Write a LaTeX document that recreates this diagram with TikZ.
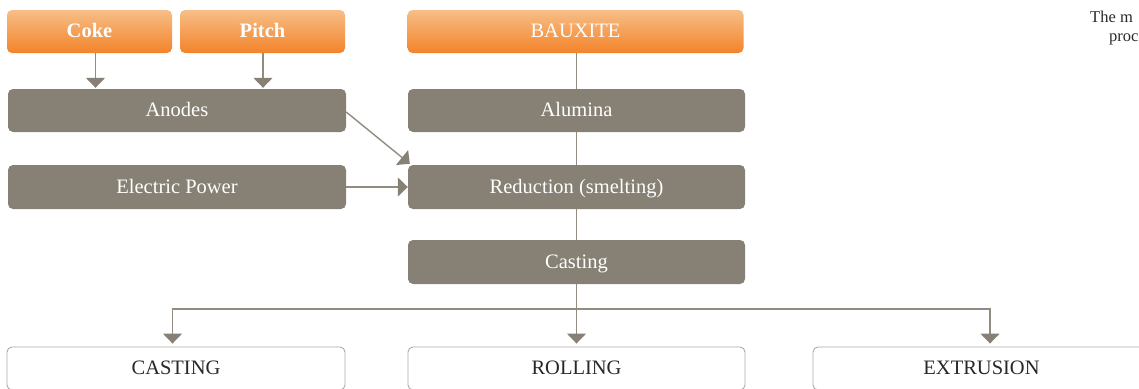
\documentclass[tikz,border=0pt]{standalone}
\usepackage{fontspec}
\setmainfont{Liberation Serif}
\usetikzlibrary{arrows.meta}
\definecolor{boxgrey}{RGB}{134,129,116}
\definecolor{linegrey}{RGB}{145,139,128}
\definecolor{orTop}{RGB}{247,190,135}
\definecolor{orBot}{RGB}{243,131,42}
\definecolor{bordergrey}{RGB}{172,170,166}
\definecolor{darktext}{RGB}{40,40,40}
\tikzset{
  basebox/.style={rectangle, rounded corners=5pt, inner sep=0pt,
    text height=15pt, text depth=2.5pt, minimum height=43pt,
    font=\fontsize{20.5}{24}\selectfont},
  orangebox/.style={basebox, top color=orTop, bottom color=orBot, text=white},
  greybox/.style={basebox, fill=boxgrey, text=white},
  outbox/.style={basebox, draw=bordergrey, line width=0.9pt, fill=white, text=darktext},
  conn/.style={draw=linegrey, line width=1.4pt},
  arr/.style={conn, -{Triangle[width=19pt,length=10pt,color=boxgrey]}},
  sidetext/.style={anchor=base west, inner sep=0pt, text=darktext, font=\fontsize{16.5}{19}\selectfont}
}
\begin{document}
\begin{tikzpicture}[x=1pt,y=-1pt]
\useasboundingbox (0,0) rectangle (1139,388);
% top inputs
\node[orangebox, minimum width=165pt, font=\fontsize{20.5}{24}\selectfont\bfseries] (coke) at (89.5,31.5) {Coke};
\node[orangebox, minimum width=165pt, font=\fontsize{20.5}{24}\selectfont\bfseries] (pitch) at (262.5,31.5) {Pitch};
\node[orangebox, minimum width=336pt] (bauxite) at (575.5,31.5) {BAUXITE};
% grey process boxes
\node[greybox, minimum width=338pt] (anodes) at (177,110.5) {Anodes};
\node[greybox, minimum width=337pt] (alumina) at (576.5,110.5) {Alumina};
\node[greybox, minimum width=338pt, minimum height=44pt] (power) at (177,187) {Electric Power};
\node[greybox, minimum width=337pt, minimum height=44pt] (reduction) at (576.5,187) {Reduction (smelting)};
\node[greybox, minimum width=337pt, minimum height=44pt] (casting) at (576.5,262) {Casting};
% outputs
\node[outbox, minimum width=338pt] (castingB) at (176,368.5) {CASTING};
\node[outbox, minimum width=337pt] (rolling) at (576.5,368.5) {ROLLING};
\node[outbox, minimum width=337pt] (extrusion) at (981.5,368.5) {EXTRUSION};
% side text
\node[sidetext] (t1) at (1090,22) {The m};
\node[sidetext] (t2) at (1109,41) {proc};
% connectors
\draw[arr, shorten >=1pt] ([xshift=6pt]coke.south) -- ([xshift=6pt]coke.south |- anodes.north);
\draw[arr, shorten >=1pt] ([xshift=0.5pt]pitch.south) -- ([xshift=0.5pt]pitch.south |- anodes.north);
\draw[conn] (alumina.north |- bauxite.south) -- (alumina.north);
\draw[conn] (alumina.south) -- (reduction.north);
\draw[conn] (reduction.south) -- (casting.north);
\draw[arr] ([yshift=-1.5pt]anodes.east) -- ([xshift=2pt,yshift=1pt]reduction.north west);
\draw[arr] (power.east) -- (power.east -| reduction.west);
\coordinate (split) at (576.5,309);
\draw[conn] (casting.south) -- (split);
\draw[arr, shorten >=3pt] (split) -| ([xshift=-3.5pt]castingB.north);
\draw[arr, shorten >=3pt] (split) -- (rolling.north);
\draw[arr, shorten >=3pt] (split) -| ([xshift=8.5pt]extrusion.north);
\end{tikzpicture}
\end{document}
